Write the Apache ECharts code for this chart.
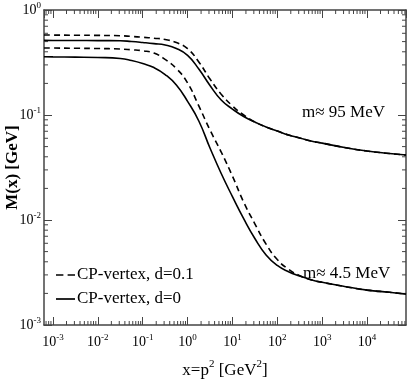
<!DOCTYPE html>
<html>
<head>
<meta charset="utf-8">
<script src="https://cdn.jsdelivr.net/npm/echarts@6/dist/echarts.min.js"></script>
<style>
  html, body { margin: 0; padding: 0; background: #fff; }
  #chart { width: 409px; height: 382px; }
</style>
</head>
<body>
<div id="chart"></div>
<script>
// x = p^2 [GeV^2], sample points
var xValues = [6.3e-4, 1e-3, 3.16e-3, 0.01, 0.0316, 0.0562, 0.1, 0.178, 0.316, 0.562, 1, 1.78, 3.16, 5.62, 10, 17.8, 31.6, 56.2, 100, 178, 316, 562, 1000, 3162, 1e4, 3.16e4, 7.4e4];

// m ~ 95 MeV pair
var heavyDashed = [0.578, 0.577, 0.575, 0.573, 0.569, 0.560, 0.550, 0.539, 0.524, 0.490, 0.428, 0.320, 0.220, 0.158, 0.122, 0.100, 0.0858, 0.0769, 0.0704, 0.0645, 0.0604, 0.0565, 0.054, 0.049, 0.0454, 0.043, 0.0416];
var heavySolid  = [0.514, 0.513, 0.512, 0.511, 0.510, 0.501, 0.490, 0.478, 0.464, 0.430, 0.369, 0.274, 0.191, 0.139, 0.114, 0.0968, 0.0858, 0.0769, 0.0704, 0.0645, 0.0604, 0.0565, 0.054, 0.049, 0.0454, 0.043, 0.0416];

// m ~ 4.5 MeV pair
var lightDashed = [0.435, 0.434, 0.432, 0.430, 0.425, 0.418, 0.409, 0.389, 0.338, 0.277, 0.202, 0.122, 0.072, 0.0444, 0.0262, 0.0148, 0.0092, 0.0059, 0.0042, 0.0034, 0.00295, 0.0027, 0.00255, 0.00233, 0.00215, 0.00205, 0.00197];
var lightSolid  = [0.359, 0.358, 0.356, 0.353, 0.345, 0.330, 0.309, 0.283, 0.243, 0.193, 0.135, 0.0877, 0.0485, 0.0277, 0.0167, 0.0103, 0.00667, 0.00465, 0.00369, 0.00322, 0.00293, 0.0027, 0.00255, 0.00233, 0.00215, 0.00205, 0.00197];

var xMin = 6.3e-4, xMax = 7.4e4;
var yMin = 1e-3, yMax = 1;

var serif = 'Liberation Serif';
var axisColor = '#444';

// minor ticks at 2..9 x 10^n
function minorTicks(lo, hi) {
  var out = [];
  for (var e = Math.floor(Math.log10(lo)); e <= Math.ceil(Math.log10(hi)); e++) {
    for (var k = 2; k <= 9; k++) {
      var v = k * Math.pow(10, e);
      if (v > lo && v < hi) out.push(v);
    }
  }
  return out;
}

function pair(ys) {
  return xValues.map(function (x, i) { return [x, ys[i]]; });
}

function powLabel(v) {
  var e = Math.log10(v);
  if (Math.abs(e - Math.round(e)) > 1e-6) return '';
  return '{b|10}{s|' + Math.round(e) + '}';
}

var labelRich = {
  b: { fontFamily: serif, fontSize: 14, color: '#000' },
  s: { fontFamily: serif, fontSize: 9, color: '#000', padding: [0, 0, 9, 0] }
};

var myChart = echarts.init(document.getElementById('chart'));

var lineSeries = function (name, ys, dashed) {
  return {
    name: name,
    type: 'line',
    data: pair(ys),
    smooth: 0.5,
    symbol: 'none',
    z: 3,
    lineStyle: { color: '#000', width: 1.6, type: dashed ? [6, 4] : 'solid' },
    itemStyle: { color: '#000' }
  };
};

var option = {
  animation: false,
  backgroundColor: '#fff',
  grid: { left: 44, right: 3, top: 10, bottom: 57, containLabel: false, outerBoundsMode: 'none' },
  legend: {
    orient: 'vertical',
    left: 51,
    top: 261,
    itemWidth: 19,
    itemHeight: 2,
    itemGap: 6,
    data: [
      { name: 'CP-vertex, d=0.1', icon: 'path://M0,0h7v1.6h-7z M11,0h7v1.6h-7z' },
      { name: 'CP-vertex, d=0', icon: 'path://M0,0h18v1.6h-18z' }
    ],
    itemStyle: { color: '#000', borderWidth: 0 },
    lineStyle: { opacity: 0 },
    textStyle: { fontFamily: serif, fontSize: 17, lineHeight: 18, color: '#000', padding: [0, 0, 0, -3] }
  },
  xAxis: [
    {
      type: 'log', min: xMin, max: xMax,
      name: '{n|x=p}{s|2}{n| [GeV}{s|2}{n|]}',
      nameLocation: 'middle', nameGap: 34, nameMoveOverlap: false,
      nameTextStyle: {
        rich: {
          n: { fontFamily: serif, fontSize: 17, color: '#000' },
          s: { fontFamily: serif, fontSize: 11, color: '#000', padding: [0, 0, 12, 0] }
        }
      },
      axisLine: { lineStyle: { color: axisColor, width: 1.5 } },
      axisTick: { inside: true, length: 8, lineStyle: { color: axisColor } },
      axisLabel: { formatter: powLabel, rich: labelRich, margin: 8, showMinLabel: false, showMaxLabel: false },
      splitLine: { show: false }
    },
    {
      type: 'log', min: xMin, max: xMax, position: 'top',
      axisLine: { lineStyle: { color: axisColor, width: 1.5 } },
      axisTick: { inside: true, length: 8, lineStyle: { color: axisColor } },
      axisLabel: { show: false },
      splitLine: { show: false }
    }
  ],
  yAxis: [
    {
      type: 'log', min: yMin, max: yMax,
      name: 'M(x) [GeV]',
      nameLocation: 'middle', nameGap: 23, nameRotate: 90, nameMoveOverlap: false,
      nameTextStyle: { fontFamily: serif, fontSize: 17, fontWeight: 'bold', color: '#000' },
      axisLine: { lineStyle: { color: axisColor, width: 1.5 } },
      axisTick: { inside: true, length: 8, lineStyle: { color: axisColor } },
      axisLabel: { formatter: powLabel, rich: labelRich, margin: 3 },
      splitLine: { show: false }
    },
    {
      type: 'log', min: yMin, max: yMax, position: 'right',
      axisLine: { lineStyle: { color: axisColor, width: 1.5 } },
      axisTick: { inside: true, length: 8, lineStyle: { color: axisColor } },
      axisLabel: { show: false },
      splitLine: { show: false }
    }
  ],
  graphic: [
    { type: 'text', left: 302, top: 104, style: { text: 'm\u2248 95 MeV', font: '17px "Liberation Serif"', fill: '#000' } },
    { type: 'text', left: 303, top: 265, style: { text: 'm\u2248 4.5 MeV', font: '17px "Liberation Serif"', fill: '#000' } }
  ],
  series: [
    lineSeries('CP-vertex, d=0.1', heavyDashed, true),
    lineSeries('CP-vertex, d=0', heavySolid, false),
    lineSeries('CP-vertex, d=0.1', lightDashed, true),
    lineSeries('CP-vertex, d=0', lightSolid, false),
    {
      // minor x ticks, bottom and top
      type: 'custom',
      silent: true,
      clip: false,
      data: minorTicks(xMin, xMax).map(function (v) { return [v, 0.01]; }),
      renderItem: function (params, api) {
        var px = api.coord([api.value(0), 0.01])[0];
        var cs = params.coordSys;
        var st = { stroke: axisColor, lineWidth: 1 };
        return {
          type: 'group',
          children: [
            { type: 'line', shape: { x1: px, y1: cs.y + cs.height, x2: px, y2: cs.y + cs.height - 4 }, style: st },
            { type: 'line', shape: { x1: px, y1: cs.y, x2: px, y2: cs.y + 4 }, style: st }
          ]
        };
      }
    },
    {
      // minor y ticks, left and right
      type: 'custom',
      silent: true,
      clip: false,
      data: minorTicks(yMin, yMax).map(function (v) { return [1, v]; }),
      renderItem: function (params, api) {
        var py = api.coord([1, api.value(1)])[1];
        var cs = params.coordSys;
        var st = { stroke: axisColor, lineWidth: 1 };
        return {
          type: 'group',
          children: [
            { type: 'line', shape: { x1: cs.x, y1: py, x2: cs.x + 4, y2: py }, style: st },
            { type: 'line', shape: { x1: cs.x + cs.width, y1: py, x2: cs.x + cs.width - 4, y2: py }, style: st }
          ]
        };
      }
    }
  ]
};

myChart.setOption(option);

window.addEventListener('resize', function () {
  myChart.resize();
});
</script>
</body>
</html>
